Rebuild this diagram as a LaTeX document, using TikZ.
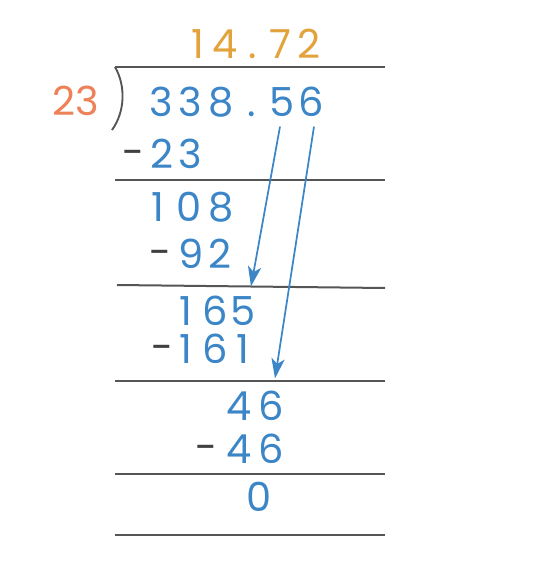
\documentclass[tikz,border=0pt]{standalone}
\usepackage{fontspec}
\setmainfont{Poppins}
\usetikzlibrary{arrows.meta}
\definecolor{qorange}{HTML}{E2A23C}
\definecolor{dorange}{HTML}{EE8157}
\definecolor{dblue}{HTML}{3C86C8}
\definecolor{rulegray}{HTML}{555555}
\definecolor{minusgray}{HTML}{404040}
\tikzset{
  dig/.style={inner sep=0pt, text height=20pt, text depth=0pt, font=\fontsize{30}{32}\selectfont},
  rule/.style={draw=rulegray, line width=1.5pt},
  bring/.style={draw=dblue, line width=1.3pt, -{Stealth[length=15pt,width=10pt,inset=4pt]}},
}
\newcommand\digrow[4]{%
  \foreach \xx/\ch [count=\ii] in {#4} {\node[dig,text=#3] (#1\ii) at (\xx,#2) {\ch};}}
\begin{document}
\begin{tikzpicture}[x=0.75pt,y=-0.75pt]
\useasboundingbox (0,0) rectangle (535,574);
% quotient
\digrow{q}{45}{qorange}{198/1,225/4,253/.,280/7,309/2}
% divisor
\node[dig,text=dorange] (dv) at (76,102) {23};
% bracket and top rule
\draw[rule] (115,67) -- (385,67);
\draw[draw=rulegray, line width=1.4pt] (115,67) .. controls (126,86) and (125,112) .. (112,130);
% dividend
\digrow{a}{103}{dblue}{161/3,190/3,221/8,252/.,282/5,311/6}
% -23
\node[dig,text=minusgray] (m1) at (134,153) {-};
\digrow{b}{155}{dblue}{162/2,190/3}
\draw[rule] (115,180) -- (385,180);
% 108
\digrow{c}{208}{dblue}{158/1,189/0,221/8}
% -92
\node[dig,text=minusgray] (m2) at (161,253) {-};
\digrow{d}{255}{dblue}{191/9,220/2}
\draw[rule] (117,285) -- (385,288);
% 165
\digrow{e}{312}{dblue}{186/1,215/6,243/5}
% -161
\node[dig,text=minusgray] (m3) at (163,348) {-};
\digrow{f}{350}{dblue}{186/1,215/6,243/1}
\draw[rule] (115,381) -- (385,381);
% 46
\digrow{g}{407}{dblue}{239/4,271/6}
% -46
\node[dig,text=minusgray] (m4) at (207,448) {-};
\digrow{h}{450}{dblue}{239/4,271/6}
\draw[rule] (115,474) -- (385,474);
% 0
\node[dig,text=dblue] (z) at (259,498) {0};
\draw[rule] (115,535) -- (385,535);
% bring-down arrows
\draw[bring] ([shift={(-2,10)}]a5.south) -- ([shift={(8,-12)}]e3.north);
\draw[bring] ([shift={(3,10)}]a6.south) -- ([shift={(4,-15)}]g2.north);
\end{tikzpicture}
\end{document}
